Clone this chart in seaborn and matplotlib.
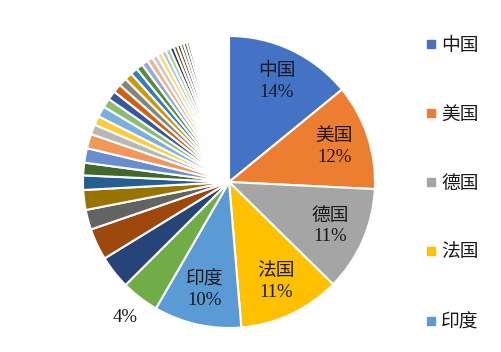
import colorsys
import numpy as np
import matplotlib
matplotlib.use('Agg')
import matplotlib.pyplot as plt
import seaborn as sns
from matplotlib.lines import Line2D

sns.set_theme(style='white')
plt.rcParams['font.family'] = ['Liberation Serif', 'Noto Sans CJK SC']

# 数据（从图中估读，单位 %）
countries = ['中国', '美国', '德国', '法国', '印度']
pct_labels = ['14%', '12%', '11%', '11%', '10%', '4%']
main_shares = [14.1, 11.7, 11.6, 11.3, 9.7, 4.2, 3.7, 3.5, 2.2, 2.2, 1.6, 1.4,
               1.6, 1.6, 1.1, 1.0, 1.2, 1.0]
tail_shares = [1.0, 0.95, 0.9, 0.85, 0.8, 0.75, 0.7, 0.65, 0.6, 0.55, 0.5, 0.5,
               0.45, 0.4, 0.4, 0.35, 0.35, 0.3, 0.25, 0.2, 0.2, 0.15]
tiny_shares = [0.09] * 40
shares = main_shares + tail_shares + tiny_shares

# Office 配色：基色 + 深浅变化
base = ['#4472C4', '#ED7D31', '#A5A5A5', '#FFC000', '#5B9BD5', '#70AD47']
steps = [('s', 1.0), ('s', 0.6), ('t', 0.2), ('s', 0.8), ('t', 0.4),
         ('s', 0.5), ('t', 0.3), ('s', 0.7), ('t', 0.5)]


def vary(hexc, kind, k):
    r, g, b = matplotlib.colors.to_rgb(hexc)
    if kind == 't':
        return (r + (1 - r) * k, g + (1 - g) * k, b + (1 - b) * k)
    h, l, s = colorsys.rgb_to_hls(r, g, b)
    return colorsys.hls_to_rgb(h, l * k, s)


palette = [vary(c, kind, k) for kind, k in steps for c in base]
colors = [palette[i % len(palette)] for i in range(len(shares))]

fig = plt.figure(figsize=(5.02, 3.52), dpi=100)
cx, cy, rad = 229 / 502, 1 - 182 / 352, 146
ax = fig.add_axes([cx - rad / 502, cy - rad / 352, 2 * rad / 502, 2 * rad / 352])

wedges, _ = ax.pie(shares, colors=colors, startangle=90, counterclock=False,
                   wedgeprops=dict(edgecolor='white', linewidth=1.5))
ax.set_xlim(-1, 1)
ax.set_ylim(-1, 1)
ax.set_aspect('equal')
ax.axis('off')

for i, lab in enumerate(pct_labels):
    w = wedges[i]
    ang = np.deg2rad((w.theta1 + w.theta2) / 2)
    d = 0.76 if i < 5 else 1.17
    txt = f'{countries[i]}\n{lab}' if i < 5 else lab
    ax.text(d * np.cos(ang), d * np.sin(ang), txt, ha='center', va='center',
            fontsize=13.5, color='#1a1a1a', linespacing=1.3, clip_on=False)

handles = [Line2D([], [], marker='s', linestyle='', markersize=5.5,
                  color=colors[i]) for i in range(5)]
fig.legend(handles, countries, loc='upper left', bbox_to_anchor=(416 / 502, 1 - 28 / 352),
           frameon=False, fontsize=13.5, labelspacing=2.77, handlelength=0.6,
           handletextpad=0.25, borderpad=0, labelcolor='#1a1a1a')

fig.savefig('out.png', dpi=100, facecolor='white')
